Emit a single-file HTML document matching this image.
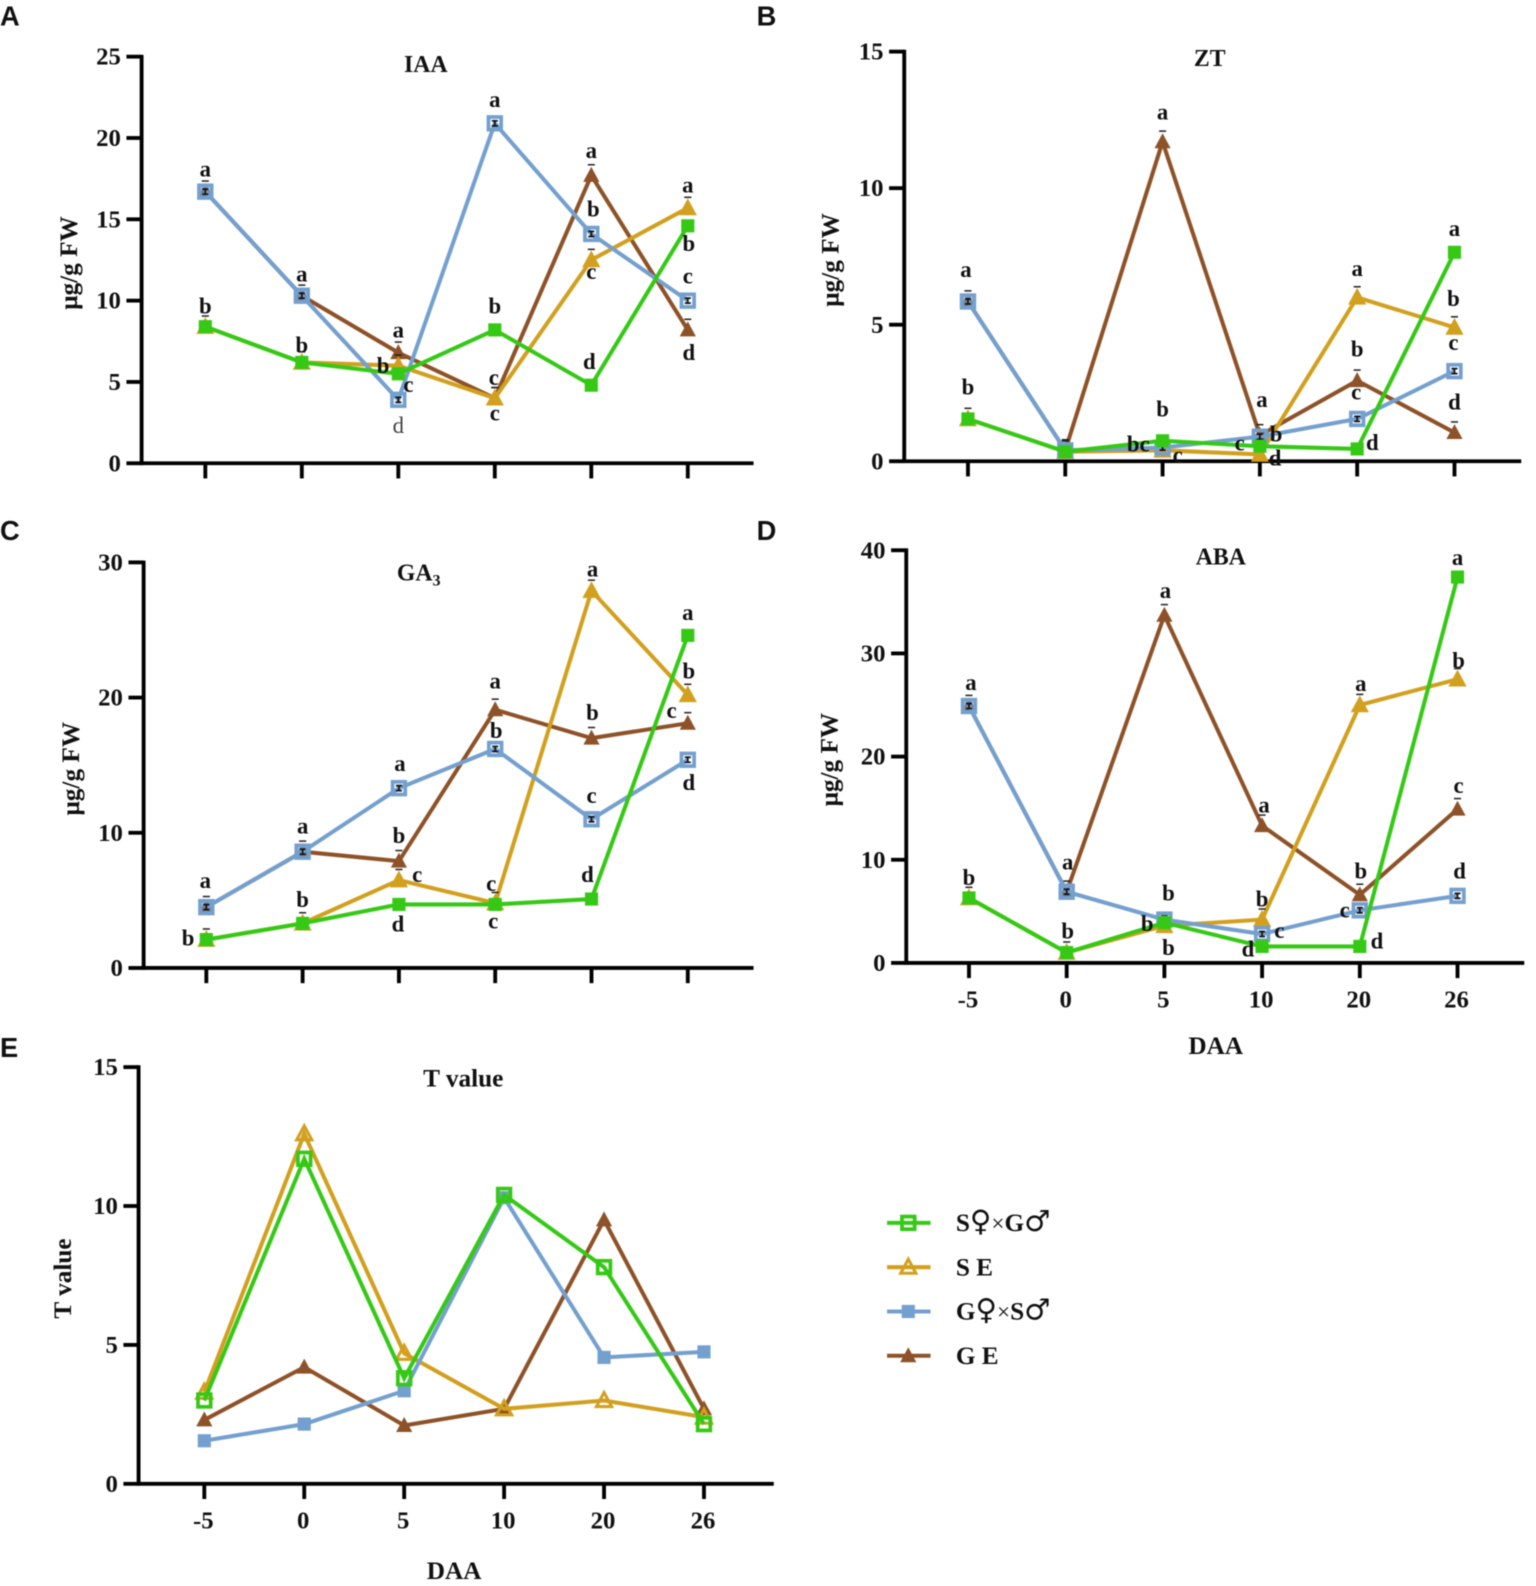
<!DOCTYPE html>
<html lang="en">
<head>
<meta charset="utf-8">
<title>Hormone content panels</title>
<style>
html,body{margin:0;padding:0;background:#fff;}
#stage{position:absolute;left:0;top:0;width:1536px;height:1586px;filter:blur(0.6px);}
text{font-family:"Liberation Serif","DejaVu Serif",serif;font-weight:bold;fill:#111;}
</style>
</head>
<body>
<svg id="stage" xmlns="http://www.w3.org/2000/svg" width="1536" height="1586" viewBox="0 0 1518.6 1568"></svg>
<script>
const categories = ['-5','0','5','10','20','26'];
const seriesOrder = ['brown','gold','blue','green'];

const iaaTicks = [0,5,10,15,20,25];
const iaaGreen = [8.4,6.2,5.5,8.2,4.8,14.6];
const iaaGold = [8.4,6.2,6.0,4.0,12.5,15.7];
const iaaBlue = [16.7,10.3,3.9,20.9,14.1,10.0];
const iaaBrown = [16.7,10.3,6.8,4.0,17.7,8.2];
const iaaLetters = [
['blue',0,'a',0,-21],['green',0,'b',0,-19],['blue',1,'a',0,-20],['green',1,'b',0,-16],
['brown',2,'a',0,-21],['green',2,'b',-15,-7],['gold',2,'c',10,20],['blue',2,'d',0,27,'thin'],
['blue',3,'a',0,-22],['green',3,'b',0,-22],['brown',3,'c',-1,-19],['gold',3,'c',0,16],
['brown',4,'a',0,-23],['blue',4,'b',2,-23],['gold',4,'c',0,13],['green',4,'d',-2,-22],
['gold',5,'a',0,-21],['green',5,'b',1,19],['blue',5,'c',0,-23],['brown',5,'d',1,24]];

const ztTicks = [0,5,10,15];
const ztGreen = [1.55,0.35,0.75,0.55,0.45,7.65];
const ztGold = [1.55,0.35,0.4,0.25,6.0,4.9];
const ztBlue = [5.85,0.4,0.5,0.9,1.55,3.3];
const ztBrown = [5.85,0.4,11.7,0.95,2.95,1.05];
const ztLetters = [
['blue',0,'a',-2,-30],['green',0,'b',0,-30],['brown',2,'a',0,-28],['green',2,'b',0,-30],
['blue',2,'bc',-24,-2],['gold',2,'c',15,6],['brown',3,'a',2,-34],['blue',3,'b',16,-1],
['green',3,'c',-20,-2],['gold',3,'d',15,5],['gold',4,'a',0,-27],['brown',4,'b',0,-30],
['blue',4,'c',-1,-25],['green',4,'d',15,-5],['green',5,'a',0,-22],['gold',5,'b',-1,-27],
['blue',5,'c',-1,-27],['brown',5,'d',0,-29]];

const ga3Ticks = [0,10,20,30];
const ga3Green = [2.1,3.3,4.7,4.7,5.1,24.6];
const ga3Gold = [2.1,3.3,6.5,4.8,27.9,20.2];
const ga3Blue = [4.5,8.6,13.3,16.2,11.0,15.4];
const ga3Brown = [4.5,8.6,7.9,19.1,17.0,18.1];
const ga3Letters = [
['blue',0,'a',-1,-25],['green',0,'b',-18,0],['blue',1,'a',0,-24],['green',1,'b',0,-22],
['blue',2,'a',1,-23],['brown',2,'b',0,-24],['gold',2,'c',18,-4],['green',2,'d',-1,21],
['brown',3,'a',0,-27],['blue',3,'b',1,-17],['gold',3,'c',-4,-18],['green',3,'c',-2,18],
['gold',4,'a',1,-20],['brown',4,'b',1,-24],['blue',4,'c',0,-22],['green',4,'d',-4,-23],
['green',5,'a',0,-21],['gold',5,'b',1,-22],['brown',5,'c',-16,-11],['blue',5,'d',1,24]];

const abaTicks = [0,10,20,30,40];
const abaGreen = [6.3,1.0,3.9,1.6,1.6,37.4];
const abaGold = [6.3,1.0,3.6,4.2,25.0,27.5];
const abaBlue = [24.9,6.9,4.2,2.8,5.1,6.5];
const abaBrown = [24.9,6.9,33.7,13.3,6.6,14.9];
const abaLetters = [
['blue',0,'a',2,-22],['green',0,'b',0,-19],['blue',1,'a',1,-28],['green',1,'b',1,-20],
['brown',2,'a',1,-23],['blue',2,'b',4,-25],['green',2,'b',-17,2],['gold',2,'b',4,23],
['brown',3,'a',2,-19],['gold',3,'b',0,-19],['blue',3,'c',17,-2],['green',3,'d',-14,4],
['gold',4,'a',1,-20],['brown',4,'b',1,-22],['blue',4,'c',-15,1],['green',4,'d',17,-4],
['green',5,'a',0,-18],['gold',5,'b',1,-17],['brown',5,'c',1,-22],['blue',5,'d',2,-23]];

const tTicks = [0,5,10,15];
const tGreen = [3.0,11.7,3.8,10.4,7.8,2.15];
const tGold = [3.3,12.6,4.7,2.7,3.0,2.4];
const tBlue = [1.55,2.15,3.35,10.3,4.55,4.75];
const tBrown = [2.3,4.2,2.1,2.7,9.5,2.7];

const legendKeys = ['green','gold','blue','brown'];
const legendLabels = [['S','♀','×','G','♂'],['S E'],['G','♀','×','S','♂'],['G E']];

const colors = {green:'#35c916',gold:'#d2a01e',blue:'#74a0cf',brown:'#8e5228'};
const stage = document.getElementById('stage');

function add(tag, name, attrs, parent, text) {
  const el = document.createElementNS('http://www.w3.org/2000/svg', tag);
  
  
  for (const k in attrs) el.setAttribute(k, attrs[k]);
  if (text !== undefined) el.textContent = text;
  (parent || stage).appendChild(el);
  return el;
}

function drawMarker(g, key, cx, cy, hollow, name, tint) {
  const c = colors[key];
  if (key === 'green' || key === 'blue') {
    const s = hollow ? 12.5 : 13;
    add('rect', name, {x:cx-s/2, y:cy-s/2, width:s, height:s, fill: hollow ? (tint ? 'rgba(116,160,207,0.6)' : 'none') : c, stroke: hollow ? c : 'none', 'stroke-width': hollow ? 3.7 : 0}, g);
  } else {
    const big = key === 'gold';
    const w = big ? (hollow ? 7.5 : 9) : (hollow ? 8.5 : 8);
    const pts = (cx-w)+','+(cy+w*0.8)+' '+(cx+w)+','+(cy+w*0.8)+' '+cx+','+(cy-w*1.05);
    add('polygon', name, {points:pts, fill: hollow ? 'none' : c, stroke: hollow ? c : 'none', 'stroke-width': hollow ? 3 : 0, 'stroke-linejoin':'miter'}, g);
  }
}

function drawInnerError(g, cx, cy, name) {
  add('path', name, {d:'M'+(cx-3)+' '+(cy-2.5)+'H'+(cx+3)+'M'+cx+' '+(cy-2.5)+'V'+(cy+2.5)+'M'+(cx-3)+' '+(cy+2.5)+'H'+(cx+3), stroke:'#111', 'stroke-width':1.7, fill:'none'}, g);
}

function drawTopCap(g, cx, cy, name) {
  add('path', name, {d:'M'+(cx-3.5)+' '+(cy-10.5)+'H'+(cx+3.5), stroke:'#222', 'stroke-width':1.5, fill:'none'}, g);
}

function drawPanel(p) {
  const g = add('g', 'panel-' + p.id, {}, stage);
  const yScale = function (v) { return p.y0 - (v / p.yMax) * (p.y0 - p.yTop); };
  const xScale = function (i) { return p.x0 + i * p.xStep; };

  add('text', 'panel-letter-' + p.id, {x:p.letterX, y:p.letterY, 'font-size':27, style:'font-family:"Liberation Sans",sans-serif;font-weight:bold'}, g, p.letter);

  const title = add('text', 'chart-title', {x:p.titleX, y:p.titleY, 'text-anchor':'middle', 'font-size':p.titleSize || 23.5}, g, p.title);
  if (p.titleSub) {
    add('tspan', 'title-subscript', {dy:5, 'font-size':16}, title, p.titleSub);
  }
  add('text', 'y-axis-title', {x:0, y:0, transform:'translate(' + p.yTitleX + ',' + p.yTitleY + ') rotate(-90)', 'text-anchor':'middle', 'font-size':25}, g, p.yTitle);

  add('line', 'y-axis', {x1:p.axisX, x2:p.axisX, y1:p.yTop-1.8, y2:p.y0+1.8, stroke:'#000', 'stroke-width':3.8}, g);
  add('line', 'x-axis', {x1:p.axisX, x2:p.xEnd, y1:p.y0, y2:p.y0, stroke:'#000', 'stroke-width':3.8}, g);

  p.ticks.forEach(function (t) {
    add('line', 'y-tick-' + t, {x1:p.axisX-15, x2:p.axisX, y1:yScale(t), y2:yScale(t), stroke:'#000', 'stroke-width':3.8}, g);
    add('text', 'y-tick-label-' + t, {x:p.axisX-20.5, y:yScale(t)+8, 'text-anchor':'end', 'font-size':24.5}, g, t);
  });
  categories.forEach(function (c, i) {
    add('line', 'x-tick-' + c, {x1:xScale(i), x2:xScale(i), y1:p.y0, y2:p.y0+15, stroke:'#000', 'stroke-width':3.8}, g);
    if (p.xLabels) {
      add('text', 'x-tick-label-' + c, {x:xScale(i)-1, y:p.y0+44, 'text-anchor':'middle', 'font-size':24.5}, g, c);
    }
  });
  if (p.xLabels) {
    add('text', 'x-axis-title', {x:p.xTitleX, y:p.xTitleY, 'text-anchor':'middle', 'font-size':25}, g, 'DAA');
  }

  seriesOrder.forEach(function (key) {
    const vals = p.series[key];
    const sg = add('g', 'series-' + key, {}, g);
    const pts = vals.map(function (v, i) { return xScale(i) + ',' + yScale(v); }).join(' ');
    add('polyline', 'line-' + key, {points:pts, fill:'none', stroke:colors[key], 'stroke-width':4, 'stroke-linejoin':'miter'}, sg);
    const hollow = p.hollow.indexOf(key) >= 0;
    vals.forEach(function (v, i) {
      const cx = xScale(i), cy = yScale(v);
      const triangle = key === 'gold' || key === 'brown';
      if (p.errors && triangle) drawTopCap(sg, cx, cy, 'error-cap-' + key + '-' + categories[i]);
      const tint = p.errors && key === 'blue' && p.series.brown[i] === v;
      drawMarker(sg, key, cx, cy, hollow, 'point-' + key + '-' + categories[i], tint);
      if (p.errors && key === 'blue') drawInnerError(sg, cx, cy, 'error-bar-' + key + '-' + categories[i]);
    });
  });

  (p.letters || []).forEach(function (l) {
    const cx = xScale(l[1]) + l[3];
    const cy = yScale(p.series[l[0]][l[1]]) + l[4];
    const t = add('text', 'significance-letter', {x:cx, y:cy+6, 'text-anchor':'middle', 'font-size':22.5}, g, l[2]);
    if (l[5]) t.setAttribute('style', 'font-weight:normal;fill:#444');
  });
}

const panels = [
  {id:'iaa',letter:'A',letterX:0,letterY:25,title:'IAA',titleX:421,titleY:71,yTitle:'μg/g FW',yTitleX:76,yTitleY:260,axisX:140,xEnd:745,x0:203,xStep:95.4,y0:458,yTop:56,yMax:25,ticks:iaaTicks,xLabels:false,errors:true,hollow:['blue'],series:{green:iaaGreen,gold:iaaGold,blue:iaaBlue,brown:iaaBrown},letters:iaaLetters},
  {id:'zt',letter:'B',letterX:748,letterY:25,title:'ZT',titleX:1196,titleY:65,yTitle:'μg/g FW',yTitleX:829,yTitleY:257,axisX:894,xEnd:1504,x0:957,xStep:96.2,y0:456,yTop:51,yMax:15,ticks:ztTicks,xLabels:false,errors:true,hollow:['blue'],series:{green:ztGreen,gold:ztGold,blue:ztBlue,brown:ztBrown},letters:ztLetters},
  {id:'ga3',letter:'C',letterX:0,letterY:534,title:'GA',titleSub:'3',titleX:414,titleY:574,yTitle:'μg/g FW',yTitleX:78,yTitleY:760,axisX:142,xEnd:745,x0:204,xStep:95.2,y0:957,yTop:556,yMax:30,ticks:ga3Ticks,xLabels:false,errors:true,hollow:['blue'],series:{green:ga3Green,gold:ga3Gold,blue:ga3Blue,brown:ga3Brown},letters:ga3Letters},
  {id:'aba',letter:'D',letterX:748,letterY:534,title:'ABA',titleX:1207,titleY:558,yTitle:'μg/g FW',yTitleX:828,yTitleY:751,axisX:896,xEnd:1507,x0:958,xStep:96.6,y0:952,yTop:544,yMax:40,ticks:abaTicks,xLabels:true,xTitleX:1202,xTitleY:1042,errors:true,hollow:['blue'],series:{green:abaGreen,gold:abaGold,blue:abaBlue,brown:abaBrown},letters:abaLetters},
  {id:'t',letter:'E',letterX:0,letterY:1045,title:'T value',titleSize:25,titleX:458,titleY:1074,yTitle:'T value',yTitleX:70,yTitleY:1264,axisX:137,xEnd:765,x0:202,xStep:98.8,y0:1467,yTop:1055,yMax:15,ticks:tTicks,xLabels:true,xTitleX:449,xTitleY:1561,errors:false,hollow:['green','gold'],series:{green:tGreen,gold:tGold,blue:tBlue,brown:tBrown},letters:[]}
];
panels.forEach(drawPanel);

const legend = add('g', 'legend', {}, stage);
legendLabels.forEach(function (parts, i) {
  const key = legendKeys[i];
  const y = 1209 + i * 43.8;
  const row = add('g', 'legend-entry-' + key, {}, legend);
  add('line', 'legend-line-' + key, {x1:877, x2:920, y1:y, y2:y, stroke:colors[key], 'stroke-width':4}, row);
  drawMarker(row, key, 898, y, key === 'green' || key === 'gold', 'legend-marker-' + key, false);
  const label = add('text', 'legend-label-' + key, {x:945, y:y+8, 'font-size':25}, row);
  parts.forEach(function (part) {
    const symbol = part === '♀' || part === '♂';
    const small = part === '×';
    const style = symbol ? 'font-family:"DejaVu Sans",sans-serif;font-weight:normal;font-size:29px' : (small ? 'font-size:23px;font-weight:normal' : '');
    add('tspan', 'legend-text-part', {style:style}, label, part);
  });
});
</script>
</body>
</html>
